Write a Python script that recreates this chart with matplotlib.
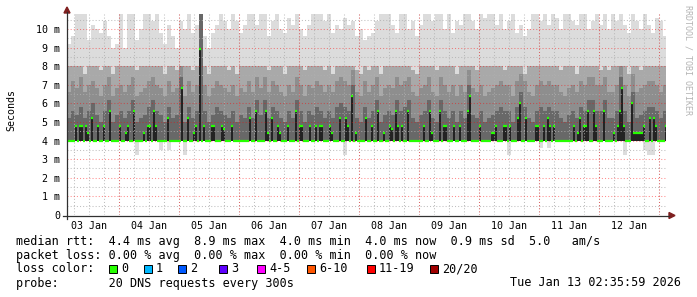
import matplotlib
matplotlib.use('Agg')
import matplotlib.pyplot as plt
import matplotlib.dates as mdates
from matplotlib.ticker import MultipleLocator
from matplotlib.patches import Rectangle, Polygon
import pandas as pd

# ---------------- data (ms) ----------------
start_time = '2026-01-03 03:12'
smoke_step_minutes = 96      # smoke (ping distribution) resolution
median_step_minutes = 48     # median resolution
base_rtt = 4.0               # lower quantiles of the 20 pings

median_rtt = [
    4.0, 4.0, 4.0, 4.0, 4.8, 4.0, 4.8, 4.8, 4.0, 4.8, 4.4, 4.0, 5.2, 4.0, 4.0, 4.8, 4.0, 4.0, 4.8, 4.0, 4.0, 5.6, 4.0, 4.0, 4.0, 4.0, 4.8, 4.0, 4.0, 4.4,
    4.8, 4.0, 4.0, 5.6, 4.0, 4.0, 4.0, 4.0, 4.4, 4.0, 4.8, 4.8, 4.0, 5.6, 4.8, 4.0, 4.0, 4.0, 4.0, 4.0, 5.2, 4.0, 4.0, 4.0, 4.0, 4.0, 4.0, 6.8, 4.0, 4.0,
    5.2, 4.0, 4.0, 4.4, 4.8, 4.0, 8.9, 4.0, 4.8, 4.0, 4.0, 4.0, 4.8, 4.8, 4.0, 4.0, 4.0, 4.8, 4.6, 4.0, 4.0, 4.0, 4.8, 4.0, 4.0, 4.0, 4.0, 4.0, 4.0, 4.0,
    4.0, 5.2, 4.0, 4.0, 5.6, 4.0, 4.0, 4.0, 4.0, 5.6, 4.4, 4.0, 5.2, 4.0, 4.0, 4.8, 4.4, 4.0, 4.0, 4.0, 4.8, 4.0, 4.0, 4.0, 5.6, 4.0, 4.8, 4.8, 4.0, 4.0,
    4.0, 4.8, 4.0, 4.0, 4.8, 4.0, 4.8, 4.8, 4.0, 4.0, 4.0, 4.8, 4.4, 4.0, 4.0, 4.0, 5.2, 4.0, 4.0, 5.2, 4.8, 4.0, 6.4, 4.0, 4.4, 4.0, 4.0, 4.0, 4.0, 5.2,
    4.0, 4.0, 4.8, 4.0, 4.0, 5.6, 4.0, 4.0, 4.4, 4.0, 4.0, 4.8, 4.6, 4.0, 5.6, 4.8, 4.0, 4.8, 4.0, 4.0, 5.6, 4.0, 4.0, 4.0, 4.0, 4.0, 4.0, 4.0, 4.8, 4.0,
    4.0, 5.6, 4.4, 4.0, 4.0, 4.0, 5.6, 4.0, 4.8, 4.8, 4.0, 4.0, 4.0, 4.8, 4.0, 4.0, 4.8, 4.0, 4.0, 4.0, 5.6, 6.4, 4.0, 4.0, 4.0, 4.0, 4.8, 4.0, 4.0, 4.0,
    4.0, 4.0, 4.4, 4.4, 4.8, 4.0, 4.0, 4.0, 4.8, 4.8, 4.0, 4.8, 4.0, 4.0, 4.0, 5.2, 6.0, 4.0, 4.0, 5.2, 4.0, 4.0, 4.0, 4.0, 4.8, 4.8, 4.0, 4.0, 4.8, 4.0,
    5.2, 4.8, 4.0, 4.8, 4.0, 4.0, 4.0, 4.0, 4.0, 4.0, 4.0, 4.0, 4.0, 4.8, 4.0, 4.4, 5.2, 4.0, 4.8, 4.8, 5.6, 4.0, 4.0, 5.6, 4.8, 4.0, 4.0, 4.0, 5.6, 4.0,
    4.0, 4.0, 4.0, 4.4, 4.0, 4.8, 5.6, 6.8, 4.8, 4.0, 4.0, 4.0, 6.0, 4.4, 4.4, 4.4, 4.4, 4.4, 4.8, 4.0, 4.0, 5.2, 4.0, 5.2, 4.8, 4.0, 4.0, 4.0, 4.0, 4.8,
]
p70_rtt = [
    5.2, 5.6, 5.4, 5.8, 5.2, 5.6, 6.0, 5.4, 5.0, 5.6, 6.2, 5.0, 5.4, 5.6, 5.2,
    5.6, 6.2, 5.0, 5.2, 5.4, 5.8, 6.2, 5.6, 5.4, 5.0, 5.8, 5.2, 5.4, 7.4, 5.0,
    5.8, 5.2, 5.6, 10.8, 5.6, 5.0, 5.4, 5.8, 5.6, 5.4, 5.2, 5.6, 5.0, 5.4, 5.2,
    5.8, 5.2, 6.2, 5.4, 6.2, 5.2, 5.8, 5.6, 5.2, 5.0, 5.6, 5.2, 6.2, 5.6, 5.0,
    5.6, 5.4, 5.8, 5.6, 5.2, 5.6, 5.2, 5.8, 6.0, 5.8, 5.6, 7.0, 5.2, 5.0, 5.8,
    5.2, 5.6, 6.2, 5.0, 5.4, 5.6, 5.4, 6.2, 5.6, 5.8, 6.2, 5.2, 5.0, 5.4, 5.6,
    6.2, 5.2, 5.0, 6.2, 5.6, 5.2, 5.6, 5.0, 5.6, 5.2, 7.0, 5.4, 5.2, 5.6, 5.0,
    5.2, 5.4, 5.6, 5.8, 5.6, 5.6, 5.0, 5.8, 6.6, 5.8, 5.2, 5.0, 5.6, 5.8, 5.6,
    5.8, 5.6, 5.6, 5.2, 5.0, 5.4, 5.6, 5.2, 5.8, 5.6, 6.2, 6.2, 5.6, 5.6, 6.2,
    5.2, 5.2, 5.6, 7.4, 5.6, 5.0, 6.6, 5.2, 5.4, 5.6, 5.8, 5.8, 5.6, 5.2, 5.6,
]
p80_rtt = [
    6.6, 7.2, 6.8, 7.4, 6.6, 7.0, 7.2, 6.8, 6.4, 7.0, 7.4, 6.4, 6.8, 7.0, 6.6,
    7.0, 7.4, 6.4, 6.6, 6.8, 7.2, 7.4, 7.0, 6.8, 6.4, 7.2, 6.6, 6.8, 8.0, 6.4,
    7.2, 6.6, 7.0, 10.8, 7.0, 6.4, 6.8, 7.2, 7.0, 6.8, 6.6, 7.0, 6.4, 6.8, 6.6,
    7.2, 6.6, 7.4, 6.8, 7.4, 6.6, 7.2, 7.0, 6.6, 6.4, 7.0, 6.6, 7.4, 7.0, 6.4,
    7.0, 6.8, 7.2, 7.0, 6.6, 7.0, 6.6, 7.2, 7.4, 7.2, 7.0, 7.8, 6.6, 6.4, 7.2,
    6.6, 7.0, 7.4, 6.4, 6.8, 7.0, 6.8, 7.4, 7.0, 7.2, 7.4, 6.6, 6.4, 6.8, 7.0,
    7.4, 6.6, 6.4, 7.4, 7.0, 6.6, 7.0, 6.4, 7.0, 6.6, 7.8, 6.8, 6.6, 7.0, 6.4,
    6.6, 6.8, 7.0, 7.2, 7.0, 7.0, 6.4, 7.2, 7.6, 7.2, 6.6, 6.4, 7.0, 7.2, 7.0,
    7.2, 7.0, 7.0, 6.6, 6.4, 6.8, 7.0, 6.6, 7.2, 7.0, 7.4, 7.4, 7.0, 7.0, 7.4,
    6.6, 6.6, 7.0, 8.0, 7.0, 6.4, 7.6, 6.6, 6.8, 7.0, 7.2, 7.2, 7.0, 6.6, 7.0,
]
p90_rtt = [
    8.0, 8.0, 8.0, 8.0, 7.6, 8.0, 8.0, 8.0, 7.8, 8.0, 8.0, 7.6, 8.0, 8.0, 8.0,
    8.0, 8.0, 7.8, 8.0, 8.0, 8.0, 8.0, 8.0, 8.0, 7.6, 8.0, 8.0, 7.8, 8.0, 8.0,
    8.0, 7.8, 8.0, 10.8, 8.0, 7.6, 8.0, 8.0, 8.0, 8.0, 7.8, 8.0, 7.6, 8.0, 8.0,
    8.0, 8.0, 8.0, 8.0, 8.0, 7.8, 8.0, 8.0, 8.0, 7.6, 8.0, 8.0, 8.0, 8.0, 7.8,
    8.0, 8.0, 8.0, 8.0, 7.8, 8.0, 7.6, 8.0, 8.0, 8.0, 8.0, 8.0, 7.8, 7.6, 8.0,
    7.8, 8.0, 8.0, 7.6, 8.0, 8.0, 8.0, 8.0, 8.0, 8.0, 8.0, 7.8, 7.6, 8.0, 8.0,
    8.0, 8.0, 7.8, 8.0, 8.0, 8.0, 8.0, 7.6, 8.0, 8.0, 8.0, 8.0, 7.8, 8.0, 8.0,
    8.0, 8.0, 8.0, 8.0, 7.8, 8.0, 8.0, 8.0, 8.0, 7.6, 8.0, 8.0, 8.0, 8.0, 8.0,
    8.0, 8.0, 8.0, 7.8, 8.0, 8.0, 8.0, 7.6, 8.0, 8.0, 8.0, 8.0, 8.0, 7.8, 8.0,
    7.8, 8.0, 8.0, 8.0, 8.0, 7.6, 8.0, 8.0, 7.8, 8.0, 8.0, 8.0, 8.0, 8.0, 8.0,
]
max_rtt = [
    9.2, 9.6, 10.8, 10.8, 10.8, 9.4, 10.2, 10.0, 9.8, 10.4, 9.6, 9.0, 9.2, 10.8, 9.0,
    10.8, 10.8, 9.4, 10.0, 10.8, 10.8, 10.4, 10.8, 9.8, 9.2, 10.2, 9.6, 9.0, 10.4, 10.0,
    10.8, 9.8, 10.2, 10.8, 9.6, 9.0, 9.8, 10.2, 10.8, 10.4, 10.0, 10.8, 10.4, 9.8, 10.2,
    10.8, 10.8, 10.2, 10.8, 10.8, 9.6, 10.4, 10.8, 10.0, 9.8, 10.6, 10.2, 10.8, 10.0, 9.6,
    10.2, 10.8, 10.8, 10.8, 10.4, 10.8, 9.8, 10.2, 10.0, 10.6, 10.2, 10.4, 9.6, 10.0, 9.4,
    9.6, 9.8, 10.4, 10.8, 10.8, 10.8, 10.2, 9.8, 10.8, 10.8, 10.0, 10.4, 9.6, 10.2, 10.8,
    10.8, 10.4, 10.8, 10.8, 10.0, 10.8, 9.8, 10.4, 10.2, 10.8, 10.8, 10.4, 10.0, 10.8, 10.6,
    10.8, 10.8, 10.2, 10.8, 10.0, 10.4, 10.8, 9.8, 10.2, 9.6, 10.0, 10.8, 10.8, 10.4, 10.8,
    10.2, 10.8, 10.6, 10.0, 10.8, 10.8, 10.4, 10.2, 10.8, 10.8, 10.0, 10.4, 10.8, 10.2, 10.8,
    10.0, 10.8, 10.4, 10.8, 10.2, 9.8, 10.8, 10.4, 10.0, 10.8, 10.2, 9.8, 10.6, 10.4, 9.6,
]
min_rtt = [
    4.0, 4.0, 4.0, 4.0, 4.0, 4.0, 4.0, 4.0, 4.0, 4.0, 4.0, 4.0, 4.0, 4.0, 4.0,
    4.0, 4.0, 3.2, 4.0, 4.0, 4.0, 4.0, 4.0, 3.5, 4.0, 3.5, 4.0, 4.0, 4.0, 3.2,
    4.0, 4.0, 4.0, 4.0, 4.0, 4.0, 4.0, 4.0, 4.0, 4.0, 4.0, 4.0, 4.0, 4.0, 4.0,
    4.0, 4.0, 4.0, 4.0, 4.0, 4.0, 4.0, 4.0, 4.0, 4.0, 4.0, 4.0, 4.0, 4.0, 4.0,
    4.0, 4.0, 4.0, 4.0, 4.0, 4.0, 4.0, 4.0, 4.0, 3.2, 4.0, 4.0, 4.0, 4.0, 4.0,
    4.0, 4.0, 4.0, 4.0, 4.0, 4.0, 4.0, 4.0, 4.0, 4.0, 4.0, 4.0, 4.0, 4.0, 4.0,
    4.0, 4.0, 4.0, 4.0, 4.0, 4.0, 4.0, 4.0, 4.0, 4.0, 4.0, 4.0, 4.0, 4.0, 4.0,
    4.0, 4.0, 4.0, 4.0, 4.0, 3.2, 4.0, 4.0, 4.0, 4.0, 4.0, 4.0, 4.0, 3.6, 4.0,
    3.6, 4.0, 4.0, 4.0, 4.0, 4.0, 4.0, 4.0, 4.0, 4.0, 4.0, 4.0, 4.0, 4.0, 4.0,
    4.0, 4.0, 4.0, 4.0, 3.2, 4.0, 4.0, 4.0, 4.0, 3.5, 3.2, 3.2, 4.0, 4.0, 4.0,
]

y_ticks = [0, 1, 2, 3, 4, 5, 6, 7, 8, 9, 10]
y_tick_labels = ['0', '1 m', '2 m', '3 m', '4 m', '5 m', '6 m', '7 m', '8 m', '9 m', '10 m']

legend_lines = [
    'median rtt:  4.4 ms avg  8.9 ms max  4.0 ms min  4.0 ms now  0.9 ms sd  5.0   am/s',
    'packet loss: 0.00 % avg  0.00 % max  0.00 % min  0.00 % now',
]
loss_labels = ['0', '1', '2', '3', '4-5', '6-10', '11-19', '20/20']
loss_colors = ['#26ff00', '#00b8ff', '#0059ff', '#5e00ff', '#ff00ff', '#ff5500', '#ff0000', '#a00000']
probe_text = 'probe:       20 DNS requests every 300s'
stamp_text = 'Tue Jan 13 02:35:59 2026'

# ---------------- figure ----------------
W, H = 697, 297
MONO = 'DejaVu Sans Mono'
fig = plt.figure(figsize=(W / 100, H / 100), dpi=100)
fig.patch.set_facecolor('white')

def fx(px):
    return px / W

def fy(py):
    return 1 - py / H

L, R, T, B = 67, 666, 14, 215
ax = fig.add_axes([fx(L), fy(B), (R - L) / W, (B - T) / H])
ax.set_facecolor('white')

ts = pd.date_range(start_time, periods=len(max_rtt), freq=f'{smoke_step_minutes}min')
xs = mdates.date2num(ts.to_pydatetime())
ws = smoke_step_minutes / 1440.0
tm = pd.date_range(start_time, periods=len(median_rtt), freq=f'{median_step_minutes}min')
xm = mdates.date2num(tm.to_pydatetime())
wm = median_step_minutes / 1440.0

x0 = xs[0]
x1 = x0 + (R - L) * 0.4 / 24.0
ax.set_xlim(x0, x1)
ax.set_ylim(0, 10.8)

bar_kw = dict(align='edge', linewidth=0, antialiased=False, zorder=1)
ax.bar(xs, [hi - lo for hi, lo in zip(max_rtt, min_rtt)], bottom=min_rtt, width=ws, color='#dcdcdc', **bar_kw)
ax.bar(xs, [v - base_rtt for v in p90_rtt], bottom=base_rtt, width=ws, color='#a9a9a9', **bar_kw)
ax.bar(xs, [v - base_rtt for v in p80_rtt], bottom=base_rtt, width=ws, color='#8e8e8e', **bar_kw)
ax.bar(xs, [v - base_rtt for v in p70_rtt], bottom=base_rtt, width=ws, color='#686868', **bar_kw)
ax.bar(xm, [v - base_rtt for v in median_rtt], bottom=base_rtt, width=wm, color='#232323', **bar_kw)
ax.hlines(median_rtt, xm, xm + wm, colors='#26ff00', linewidth=1.6, zorder=4)

# grid
ax.set_axisbelow(False)
ax.set_yticks(y_ticks)
ax.set_yticklabels(y_tick_labels)
ax.yaxis.set_minor_locator(MultipleLocator(0.5))
ax.xaxis.set_major_locator(mdates.HourLocator(byhour=[12]))
ax.xaxis.set_major_formatter(mdates.DateFormatter('%d %b'))
ax.xaxis.set_minor_locator(mdates.HourLocator(byhour=[0, 6, 12, 18]))
ax.xaxis.remove_overlapping_locs = False
dots = (0, (1, 2))
ax.grid(True, axis='y', which='major', color='#ff0000', alpha=0.45, linestyle=dots, linewidth=0.75, zorder=3)
ax.grid(True, axis='y', which='minor', color='#b0b0b0', alpha=0.8, linestyle=dots, linewidth=0.75, zorder=3)
ax.grid(True, axis='x', which='minor', color='#b0b0b0', alpha=0.8, linestyle=dots, linewidth=0.75, zorder=3)
ax.grid(False, axis='x', which='major')
midnights = pd.date_range('2026-01-04', '2026-01-13', freq='D')
for d in mdates.date2num(midnights.to_pydatetime()):
    ax.axvline(d, color='#ff0000', alpha=0.45, linestyle=dots, linewidth=0.75, zorder=3)

for s in ax.spines.values():
    s.set_visible(False)
ax.tick_params(axis='both', which='both', length=0)
ax.tick_params(axis='y', pad=5)
ax.tick_params(axis='x', pad=4)
for lab in ax.get_yticklabels() + ax.get_xticklabels():
    lab.set_fontfamily(MONO)
    lab.set_fontsize(7.2)

# axes lines and arrows
axis_col = '#303030'
arrow_col = '#7f1f1f'
fig.add_artist(plt.Line2D([fx(63), fx(669)], [fy(215.5), fy(215.5)], color=axis_col, linewidth=0.9))
fig.add_artist(plt.Line2D([fx(67), fx(67)], [fy(219), fy(12)], color=axis_col, linewidth=0.9))
fig.add_artist(Polygon([[fx(669), fy(212.5)], [fx(675), fy(215.5)], [fx(669), fy(218.5)]],
                       closed=True, color=arrow_col, transform=fig.transFigure))
fig.add_artist(Polygon([[fx(64), fy(13)], [fx(67), fy(7)], [fx(70), fy(13)]],
                       closed=True, color=arrow_col, transform=fig.transFigure))

# side texts
fig.text(fx(11), fy(110), 'Seconds', rotation=90, ha='center', va='center',
         fontfamily=MONO, fontsize=7.2, color='black')
fig.text(fx(688), fy(60), 'RRDTOOL / TOBI OETIKER', rotation=270, ha='center', va='center',
         fontfamily=MONO, fontsize=6, color='#b4b4b4')

# legend
LFS = 8.5
fig.text(fx(16), fy(241), legend_lines[0], ha='left', va='center', fontfamily=MONO, fontsize=LFS)
fig.text(fx(16), fy(255), legend_lines[1], ha='left', va='center', fontfamily=MONO, fontsize=LFS)
fig.text(fx(16), fy(269), 'loss color:', ha='left', va='center', fontfamily=MONO, fontsize=LFS)
box_x = [109, 144, 178, 219, 257, 307, 367, 430]
for bx, lab, col in zip(box_x, loss_labels, loss_colors):
    fig.add_artist(Rectangle((fx(bx), fy(273)), 8 / W, 8 / H, transform=fig.transFigure,
                             facecolor=col, edgecolor='black', linewidth=0.7))
    fig.text(fx(bx + 12), fy(269), lab, ha='left', va='center', fontfamily=MONO, fontsize=LFS)
fig.text(fx(16), fy(283), probe_text, ha='left', va='center', fontfamily=MONO, fontsize=LFS)
fig.text(fx(681), fy(283), stamp_text, ha='right', va='center', fontfamily=MONO, fontsize=LFS)

fig.savefig('out.png', dpi=100, facecolor='white')
